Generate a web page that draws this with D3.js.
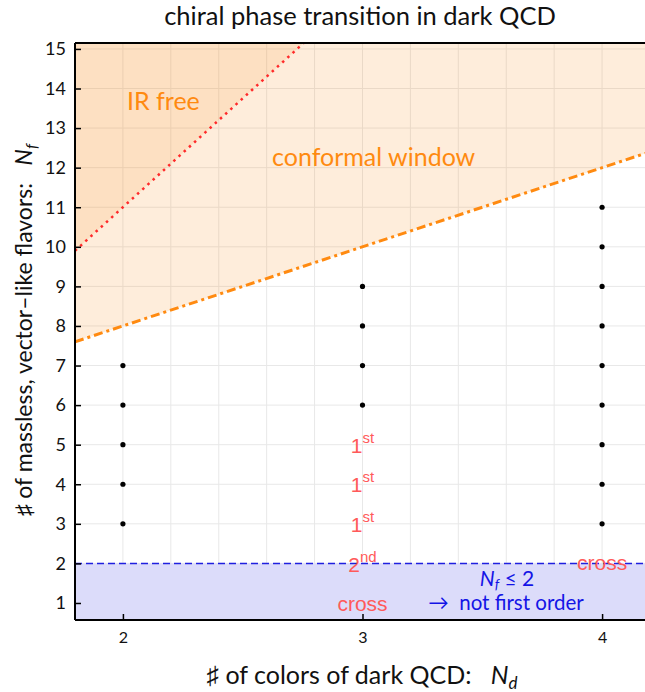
<!DOCTYPE html>
<html><head><meta charset="utf-8">
<script src="https://cdn.jsdelivr.net/npm/d3@7"></script>
<style>body{margin:0;background:#fff}svg{display:block;font-family:Lato,"Open Sans",sans-serif}text{white-space:pre}</style>
</head><body><svg id="c" width="645" height="692"></svg>
<script>
// data
const xTicks = [2, 3, 4];
const yTicks = [1,2,3,4,5,6,7,8,9,10,11,12,13,14,15];
const nd2Flavors = [3,4,5,6,7];
const nd3Flavors = [6,7,8,9];
const nd4Flavors = [3,4,5,6,7,8,9,10,11];
const irFreeLineNd = [1.8, 2.76];
const irFreeLineNf = [9.9, 15.18];
const conformalLineNd = [1.8, 4.2];
const conformalLineNf = [7.6, 12.4];
const orderLabels = [
  {nd:3, nf:5, base:"1", sup:"st"},
  {nd:3, nf:4, base:"1", sup:"st"},
  {nd:3, nf:3, base:"1", sup:"st"},
  {nd:3, nf:2, base:"2", sup:"nd"},
  {nd:3, nf:1, base:"cross", sup:""},
  {nd:4, nf:2, base:"cross", sup:""}
];
const blueLimit = 2;

const svg = d3.select("#c");
const L=75, R=650, T=43, B=620;
const x = d3.scaleLinear().domain([1.8,4.2]).range([L,R]);
const y = d3.scaleLinear().domain([0.57,15.15]).range([B,T]);

svg.append("defs").append("clipPath").attr("id","clip")
  .append("rect").attr("x",L).attr("y",T).attr("width",645-L).attr("height",B-T);
const g = svg.append("g").attr("clip-path","url(#clip)");

// grid
const vGrid = d3.range(1.8, 4.21, 0.2);
g.selectAll(".vg").data(vGrid).enter().append("line")
  .attr("x1",d=>x(d)).attr("x2",d=>x(d)).attr("y1",T).attr("y2",B)
  .attr("stroke","#e8e8e8").attr("stroke-width",1);
g.selectAll(".hg").data(yTicks).enter().append("line")
  .attr("x1",L).attr("x2",R).attr("y1",d=>y(d)).attr("y2",d=>y(d))
  .attr("stroke","#e8e8e8").attr("stroke-width",1);

// conformal window fill (above orange line)
const conf = conformalLineNd.map((d,i)=>[d, conformalLineNf[i]]);
g.append("path").attr("d", d3.line()([
  [x(conf[0][0]), y(conf[0][1])], [x(conf[1][0]), y(conf[1][1])],
  [x(conf[1][0]), T], [x(conf[0][0]), T]
])).attr("fill","#fb8c1e").attr("fill-opacity",0.16);
// IR free fill (above red line)
const ir = irFreeLineNd.map((d,i)=>[d, irFreeLineNf[i]]);
g.append("path").attr("d", d3.line()([
  [x(ir[0][0]), y(ir[0][1])], [x(ir[1][0]), y(ir[1][1])],
  [x(ir[0][0]), y(ir[1][1])]
])).attr("fill","#fb8c1e").attr("fill-opacity",0.13);

// blue region
g.append("rect").attr("x",L).attr("y",y(blueLimit)).attr("width",R-L).attr("height",B-y(blueLimit))
  .attr("fill","#dcdcfa");
g.append("line").attr("x1",L).attr("x2",R).attr("y1",y(blueLimit)).attr("y2",y(blueLimit))
  .attr("stroke","#2020e0").attr("stroke-width",1.5).attr("stroke-dasharray","7,4");

// lines
g.append("path").attr("d", d3.line().x(d=>x(d[0])).y(d=>y(d[1]))(ir))
  .attr("stroke","#ff2a2a").attr("stroke-width",2.5).attr("fill","none")
  .attr("stroke-dasharray","2.5,4.5");
g.append("path").attr("d", d3.line().x(d=>x(d[0])).y(d=>y(d[1]))(conf))
  .attr("stroke","#ff8a10").attr("stroke-width",3).attr("fill","none")
  .attr("stroke-dasharray","9,4,3,4");

// points
const pts = [].concat(
  nd2Flavors.map(v=>[2,v]), nd3Flavors.map(v=>[3,v]), nd4Flavors.map(v=>[4,v]));
g.selectAll(".pt").data(pts).enter().append("circle")
  .attr("cx",d=>x(d[0])).attr("cy",d=>y(d[1])).attr("r",2.6).attr("fill","#000");

// region labels
g.append("text").attr("x",127).attr("y",110).attr("fill","#ff8a10")
  .attr("font-size",25).text("IR free");
g.append("text").attr("x",272).attr("y",166).attr("fill","#ff8a10")
  .attr("font-size",25).text("conformal window");

// order labels
orderLabels.forEach(o=>{
  const dy = o.base==="cross" ? (o.nd===3 ? 8 : 7) : (o.base==="2" ? 9 : 8);
  const t = g.append("text").attr("x",x(o.nd)).attr("y",y(o.nf)+dy)
    .attr("fill","#ff5a5a").attr("font-size",21).attr("text-anchor","middle")
    .attr("font-family","'Liberation Sans',Arial,sans-serif");
  t.append("tspan").text(o.base);
  if(o.sup) t.append("tspan").attr("dy",-10).attr("font-size",15).text(o.sup);
});

// blue texts
const bt = g.append("text").attr("x",507).attr("y",586).attr("fill","#1414e6")
  .attr("font-size",21).attr("text-anchor","middle");
bt.append("tspan").attr("font-style","italic").text("N");
bt.append("tspan").attr("font-style","italic").attr("font-size",14).attr("dy",3).text("f");
bt.append("tspan").attr("dy",-3).text(" ≤ 2");
g.append("text").attr("x",506).attr("y",610).attr("fill","#1414e6")
  .attr("font-size",20.5).attr("text-anchor","middle").text("→  not first order");

// frame
svg.append("line").attr("x1",L).attr("x2",645).attr("y1",T).attr("y2",T).attr("stroke","#000").attr("stroke-width",2);
svg.append("line").attr("x1",L).attr("x2",L).attr("y1",T).attr("y2",B).attr("stroke","#000").attr("stroke-width",2);
svg.append("line").attr("x1",L).attr("x2",645).attr("y1",B).attr("y2",B).attr("stroke","#000").attr("stroke-width",2);

// axes ticks
const ya = svg.append("g").attr("transform",`translate(${L},0)`)
  .call(d3.axisLeft(y).tickValues(yTicks).tickSize(-6).tickPadding(9));
ya.select(".domain").remove();
ya.selectAll("text").attr("font-size",18).attr("font-family","Lato,sans-serif").attr("fill","#111");
ya.selectAll("line").attr("stroke","#000").attr("stroke-width",1.5);
const xa = svg.append("g").attr("transform",`translate(0,${B})`)
  .call(d3.axisBottom(x).tickValues(xTicks).tickFormat(d3.format("d")).tickSize(-6).tickPadding(12));
xa.select(".domain").remove();
xa.selectAll("text").attr("font-size",16).attr("font-family","Lato,sans-serif").attr("fill","#111");
xa.selectAll("line").attr("stroke","#000").attr("stroke-width",1.5);

// title
svg.append("text").attr("x",360).attr("y",25).attr("text-anchor","middle")
  .attr("font-size",25.5).attr("fill","#111").text("chiral phase transition in dark QCD");

// axis labels
const xl = svg.append("text").attr("x",362).attr("y",684).attr("text-anchor","middle")
  .attr("font-size",25).attr("fill","#111");
xl.append("tspan").text("♯ of colors of dark QCD:   ");
xl.append("tspan").attr("font-style","italic").text("N");
xl.append("tspan").attr("font-style","italic").attr("font-size",17).attr("dy",5).text("d");

const yl = svg.append("text").attr("transform","translate(32,330) rotate(-90)").attr("text-anchor","middle")
  .attr("font-size",23).attr("fill","#111");
yl.append("tspan").text("♯ of massless, vector–like flavors:   ");
yl.append("tspan").attr("font-style","italic").text("N");
yl.append("tspan").attr("font-style","italic").attr("font-size",16).attr("dy",5).text("f");
</script></body></html>
